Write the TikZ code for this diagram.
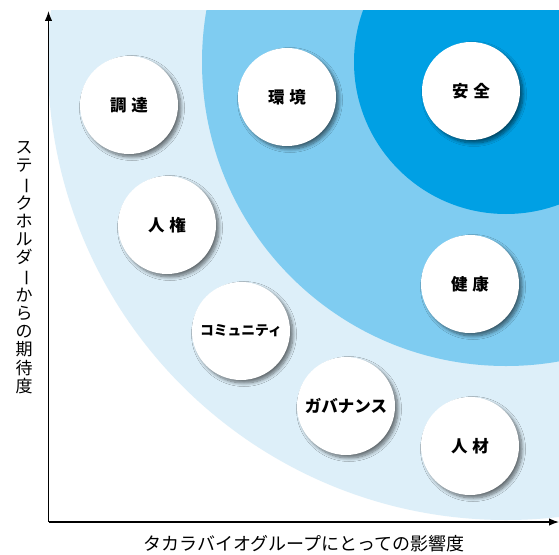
\documentclass[tikz,border=0pt]{standalone}
\usepackage{fontspec}
\usetikzlibrary{arrows.meta,shadows.blur}
\newfontfamily\jp{Noto Sans CJK JP}
\definecolor{lightb}{RGB}{221,239,249}
\definecolor{midb}{RGB}{127,204,241}
\definecolor{darkb}{RGB}{0,160,228}
\newcommand{\vbar}{\rotatebox[origin=c]{-90}{ー}}
\tikzset{
 topic/.style={circle, fill=white, minimum size=98bp, inner sep=0pt,
   font=\jp\bfseries\fontsize{16.5bp}{18bp}\selectfont,
   blur shadow={shadow xshift=3bp, shadow yshift=-3bp, shadow blur steps=8, shadow opacity=55, shadow blur radius=3.5bp}},
 axisline/.style={line width=1.4bp, -{Latex[length=10bp,width=7.5bp]}},
 axlabel/.style={font=\jp\fontsize{17bp}{18.2bp}\selectfont, inner sep=0pt}
}
\begin{document}
\begin{tikzpicture}[x=1bp,y=-1bp]
\useasboundingbox[fill=white] (0,0) rectangle (559,555);
\begin{scope}
\clip (49,11) rectangle (559,522);
\fill[lightb] (506,62) circle[radius=458bp];
\fill[midb] (506,62) circle[radius=304bp];
\fill[darkb] (506,62) circle[radius=152bp];
\end{scope}
\coordinate (o) at (48.5,522);
\coordinate (ytip) at (48.5,11);
\coordinate (xtip) at (559,522);
\draw[axisline] (o) -- (ytip);
\draw[axisline] (o) -- (xtip);

\node[topic] (chotatsu) at (129,105) {調\hspace{0.3em}達};
\node[topic] (kankyo) at (287,97) {環\hspace{0.3em}境};
\node[topic] (anzen) at (471,91) {安\hspace{0.3em}全};
\node[topic] (jinken) at (167,225) {人\hspace{0.3em}権};
\node[topic] (kenko) at (470,284) {健\hspace{0.3em}康};
\node[topic] (community) at (241,331) {\fontsize{13.8bp}{16bp}\selectfont コミュニティ};
\node[topic] (governance) at (346,406) {ガバナンス};
\node[topic] (jinzai) at (470,446) {人\hspace{0.3em}材};

\node[axlabel, font=\jp\fontsize{18bp}{20bp}\selectfont] (xlabel) at (304,544) {タカラバイオグループにとっての影響度};
\node[axlabel, align=center] (ylabel) at (24,267.5) {ス\\テ\\\vbar\\ク\\ホ\\ル\\ダ\\\vbar\\か\\ら\\の\\期\\待\\度};
\end{tikzpicture}
\end{document}
